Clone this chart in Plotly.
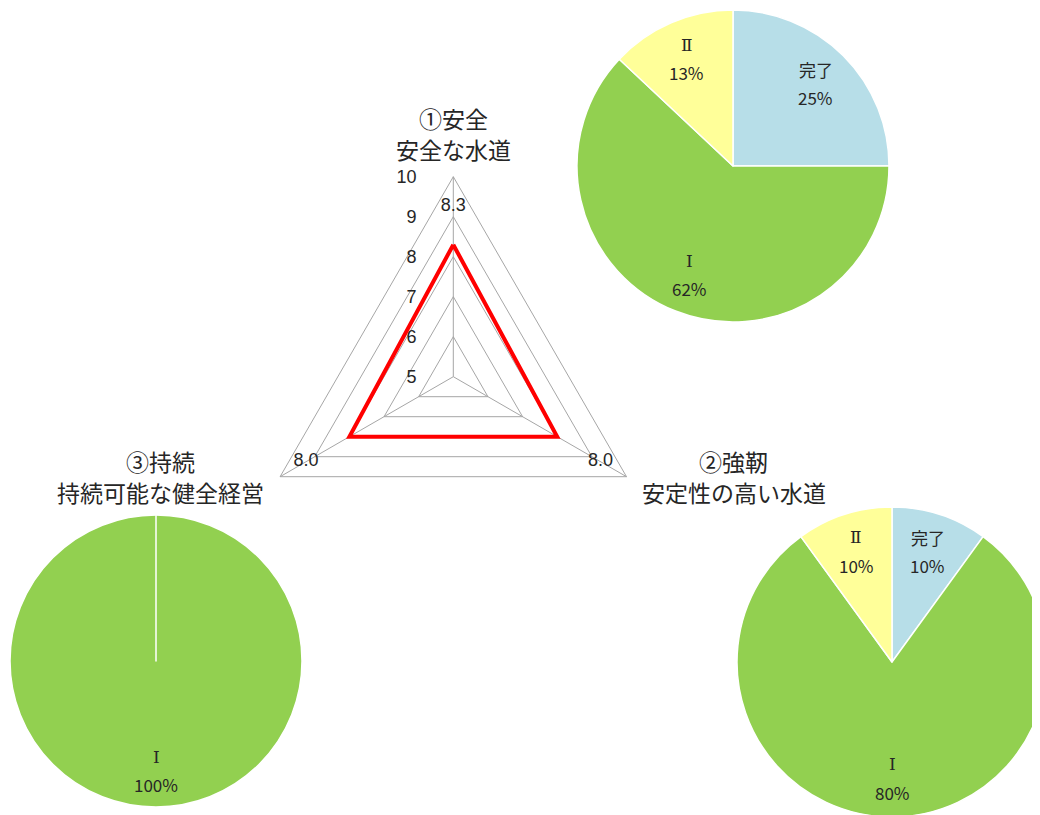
import math
import plotly.graph_objects as go

# radar data
AXIS_NAMES = ["①安全", "②強靭", "③持続"]
AXIS_SUBTITLES = ["安全な水道", "安定性の高い水道", "持続可能な健全経営"]
SCORES = [8.3, 8.0, 8.0]
RADIAL_TICKS = [5, 6, 7, 8, 9, 10]

# pie data, one pie per axis
SLICE_LABELS = ["完了", "Ⅰ", "Ⅱ"]
SLICE_COLORS = ["#b7dee8", "#92d050", "#ffff99"]
PIE_SAFETY = [25, 62, 13]
PIE_RESILIENCE = [10, 80, 10]
PIE_SUSTAIN = [0, 100, 0]

W, H = 1040, 815
JP_FONT = "Noto Sans CJK JP"
NUM_FONT = "Liberation Sans, Arial, sans-serif"
SERIF_FONT = "DejaVu Serif"
TEXT_COLOR = "#262626"
GRID_COLOR = "#a6a6a6"
LABEL_R = 9.25      # radius of the value labels on the radar
PIE_LABEL_R = 0.75  # pie labels, as a share of the pie radius
PIE_LINE_GAP = 28   # px between the two lines of a pie label
TITLE_LINE_GAP = 31

# geometry in figure pixels (cx, cy, radius)
RADAR_GEO = (445.3, 368.7, 200)
PIE_GEO = [(725, 158, 156), (884, 654, 155), (148, 653, 146)]


def px_domain(cx, cy, r):
    return dict(x=[(cx - r) / W, (cx + r) / W],
                y=[1 - (cy + r) / H, 1 - (cy - r) / H])


def slice_label(label):
    # roman numerals look serif in the original
    if label in ("Ⅰ", "Ⅱ"):
        return f"<span style='font-family:{SERIF_FONT}'>{label}</span>"
    return label


def text_lines(lines, x, y_mid, gap, size):
    """one annotation per line, centred on (x, y_mid) in figure px"""
    out = []
    n = len(lines)
    for i, line in enumerate(lines):
        yy = y_mid + (i - (n - 1) / 2) * gap
        out.append(dict(
            x=x / W, y=1 - yy / H, xref="paper", yref="paper",
            xanchor="center", yanchor="middle",
            text=line, showarrow=False,
            font=dict(family=JP_FONT, size=size, color=TEXT_COLOR),
        ))
    return out


categories = AXIS_NAMES

fig = go.Figure()

fig.add_trace(go.Scatterpolar(
    r=SCORES + SCORES[:1],
    theta=categories + categories[:1],
    mode="lines",
    line=dict(color="#ff0000", width=4),
    hoverinfo="skip",
))
fig.add_trace(go.Scatterpolar(
    r=[LABEL_R] * len(SCORES),
    theta=categories,
    mode="text",
    text=[f"{v:.1f}" for v in SCORES],
    textfont=dict(family=NUM_FONT, size=18, color=TEXT_COLOR),
    hoverinfo="skip",
))

annotations = []
pie_sets = [PIE_SAFETY, PIE_RESILIENCE, PIE_SUSTAIN]
for values, (cx, cy, r) in zip(pie_sets, PIE_GEO):
    fig.add_trace(go.Pie(
        labels=SLICE_LABELS,
        values=values,
        domain=px_domain(cx, cy, r),
        sort=False,
        direction="clockwise",
        rotation=0,
        marker=dict(colors=SLICE_COLORS, line=dict(color="white", width=1.5)),
        textinfo="none",
        hoverinfo="label+percent",
    ))
    # labels at the middle of each slice, like the spreadsheet does
    total = sum(values)
    start = 0
    for lab, v in zip(SLICE_LABELS, values):
        if v <= 0:
            continue
        mid = 2 * math.pi * (start + v / 2) / total
        start += v
        lx = cx + PIE_LABEL_R * r * math.sin(mid)
        ly = cy - PIE_LABEL_R * r * math.cos(mid)
        lines = [slice_label(lab), f"{round(100 * v / total)}%"]
        annotations += text_lines(lines, lx, ly, PIE_LINE_GAP, 17)

# axis titles next to the radar corners
rcx, rcy, rr = RADAR_GEO
half_w = rr * math.cos(math.radians(30))
title_pos = [
    (rcx, rcy - rr - 43),
    (rcx + half_w + 107, rcy + rr / 2),
    (rcx - half_w - 120, rcy + rr / 2),
]
for name, sub, (tx, ty) in zip(AXIS_NAMES, AXIS_SUBTITLES, title_pos):
    annotations += text_lines([name, sub], tx, ty, TITLE_LINE_GAP, 23)

fig.update_layout(
    width=W, height=H,
    margin=dict(l=0, r=0, t=0, b=0),
    paper_bgcolor="white",
    showlegend=False,
    annotations=annotations,
    polar=dict(
        domain=px_domain(*RADAR_GEO),
        bgcolor="white",
        gridshape="linear",
        radialaxis=dict(
            range=[5, 10],
            tickvals=RADIAL_TICKS,
            angle=90,
            tickangle=90,
            side="counterclockwise",
            showline=False,
            gridcolor=GRID_COLOR,
            ticks="outside",
            ticklen=30,
            tickcolor="rgba(0,0,0,0)",
            tickfont=dict(family=NUM_FONT, size=18, color=TEXT_COLOR),
        ),
        angularaxis=dict(
            rotation=90,
            direction="clockwise",
            linecolor=GRID_COLOR,
            gridcolor=GRID_COLOR,
            ticks="",
            showticklabels=False,
        ),
    ),
)

fig.write_html("out.html")
